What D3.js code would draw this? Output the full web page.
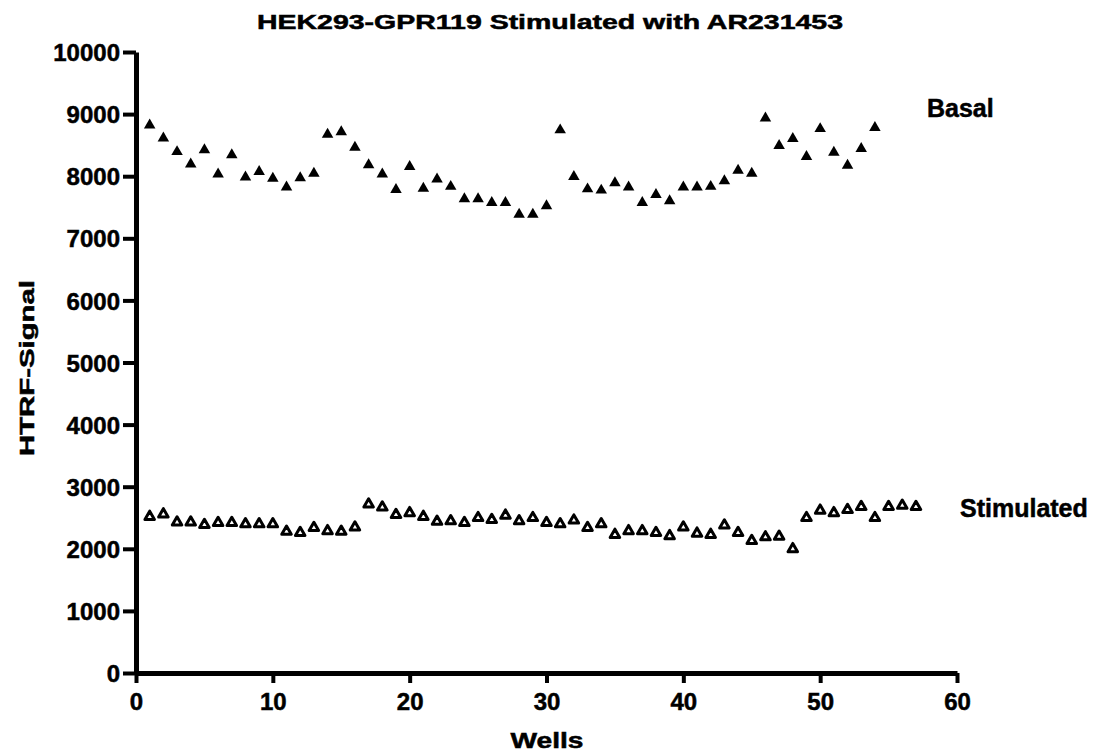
<!DOCTYPE html>
<html>
<head>
<meta charset="utf-8">
<script src="https://cdn.jsdelivr.net/npm/d3@7"></script>
<style>
  html, body { margin: 0; padding: 0; background: #fff; }
  svg { display: block; }
  text { font-family: "Liberation Sans", Arial, sans-serif; font-weight: bold; fill: #000; stroke: #000; stroke-width: 0.5px; }
</style>
</head>
<body>
<svg id="chart" width="1099" height="753"></svg>
<script>
const title = "HEK293-GPR119 Stimulated with AR231453";
const xLabel = "Wells";
const yLabel = "HTRF-Signal";
const seriesNames = ["Basal", "Stimulated"];
const xTicks = [0, 10, 20, 30, 40, 50, 60];
const yTicks = [0, 1000, 2000, 3000, 4000, 5000, 6000, 7000, 8000, 9000, 10000];

const basalWells = d3.range(1, 55);
const basalValues = [
  8850, 8640, 8420, 8220, 8450, 8060, 8370, 8010, 8100, 7990,
  7850, 8000, 8070, 8700, 8740, 8490, 8210, 8060, 7810, 8180,
  7830, 7980, 7860, 7660, 7660, 7600, 7600, 7410, 7410, 7550,
  8770, 8020, 7820, 7800, 7920, 7850, 7600, 7730, 7630, 7850,
  7850, 7860, 7950, 8120, 8070, 8960, 8520, 8630, 8340, 8790,
  8410, 8200, 8470, 8810
];
const stimWells = d3.range(1, 58);
const stimValues = [
  2540, 2580, 2450, 2450, 2410, 2440, 2440, 2420, 2420, 2420,
  2300, 2280, 2360, 2310, 2300, 2370, 2740, 2690, 2570, 2600,
  2540, 2460, 2470, 2440, 2520, 2490, 2560, 2470, 2520, 2440,
  2420, 2480, 2360, 2420, 2250, 2310, 2310, 2280, 2230, 2370,
  2270, 2250, 2400, 2280, 2150, 2210, 2220, 2020, 2520, 2640,
  2600, 2650, 2700, 2520, 2700, 2720, 2700
];

const svg = d3.select("#chart");
const x = d3.scaleLinear().domain([0, 60]).range([136, 957]);
const y = d3.scaleLinear().domain([0, 10000]).range([673, 52]);

// triangle centered on its bounding box
function triType(side) {
  return {
    draw(ctx) {
      const h = side * Math.sqrt(3) / 2;
      ctx.moveTo(0, -h / 2);
      ctx.lineTo(side / 2, h / 2);
      ctx.lineTo(-side / 2, h / 2);
      ctx.closePath();
    }
  };
}

// Title
svg.append("text")
  .attr("x", 257).attr("y", 29)
  .attr("font-size", 20)
  .attr("textLength", 586)
  .attr("lengthAdjust", "spacingAndGlyphs")
  .text(title);

// Y axis
const yAxis = svg.append("g")
  .attr("transform", `translate(${x(0)},0)`)
  .call(d3.axisLeft(y).tickValues(yTicks).tickFormat(d3.format("d")).tickSize(13).tickSizeOuter(0).tickPadding(3));
yAxis.select(".domain").attr("stroke", "#000").attr("stroke-width", 5);
yAxis.selectAll(".tick line").attr("stroke", "#000").attr("stroke-width", 4);
yAxis.selectAll(".tick text").attr("font-size", 24).attr("font-family", null).attr("dy", "0.36em");

// X axis
const xAxis = svg.append("g")
  .attr("transform", `translate(0,${y(0)})`)
  .call(d3.axisBottom(x).tickValues(xTicks).tickFormat(d3.format("d")).tickSize(10).tickSizeOuter(0).tickPadding(10));
xAxis.select(".domain").attr("stroke", "#000").attr("stroke-width", 5);
xAxis.selectAll(".tick line").attr("stroke", "#000").attr("stroke-width", 4);
xAxis.selectAll(".tick text").attr("font-size", 24).attr("font-family", null);

// Axis titles
svg.append("text")
  .attr("x", 547).attr("y", 748)
  .attr("text-anchor", "middle")
  .attr("font-size", 22)
  .attr("textLength", 73)
  .attr("lengthAdjust", "spacingAndGlyphs")
  .text(xLabel);

svg.append("text")
  .attr("transform", "translate(34,368) rotate(-90)")
  .attr("text-anchor", "middle")
  .attr("font-size", 20)
  .attr("textLength", 176)
  .attr("lengthAdjust", "spacingAndGlyphs")
  .text(yLabel);

// Basal (filled triangles)
svg.append("g").selectAll("path")
  .data(basalValues)
  .join("path")
  .attr("transform", (d, i) => `translate(${x(basalWells[i])},${y(d)})`)
  .attr("d", d3.symbol().type(triType(11.5)))
  .attr("fill", "#000");

// Stimulated (open triangles)
svg.append("g").selectAll("path")
  .data(stimValues)
  .join("path")
  .attr("transform", (d, i) => `translate(${x(stimWells[i])},${y(d)})`)
  .attr("d", d3.symbol().type(triType(9.5)))
  .attr("fill", "#fff")
  .attr("stroke", "#000")
  .attr("stroke-width", 3)
  .attr("stroke-linejoin", "round");

// Series labels
svg.append("text").attr("x", 927).attr("y", 117).attr("font-size", 25).text(seriesNames[0]);
svg.append("text").attr("x", 960).attr("y", 517).attr("font-size", 25).text(seriesNames[1]);
</script>
</body>
</html>
